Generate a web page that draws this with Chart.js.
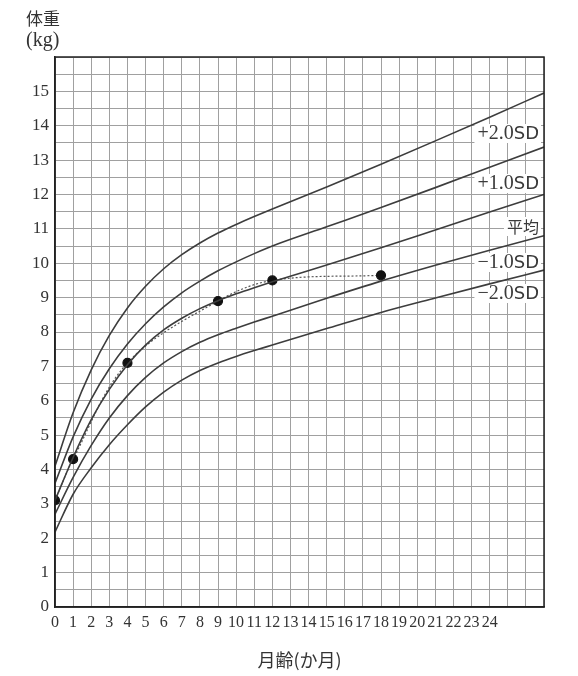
<!DOCTYPE html>
<html>
<head>
<meta charset="utf-8">
<script src="https://cdn.jsdelivr.net/npm/chart.js@4/dist/chart.umd.min.js"></script>
<style>
html,body{margin:0;padding:0;background:#fff;}
#wrap{width:578px;height:676px;position:relative;}
canvas{display:block;}
</style>
</head>
<body>
<div id="wrap"><canvas id="c" width="578" height="676"></canvas></div>
<script>
// ---- data ----
const months   = [0, 1, 2, 3, 4, 5, 6, 7, 8, 9, 10, 11, 12, 15, 18, 21, 24, 27];
const plus2SD  = [4.1, 5.65, 6.9, 7.9, 8.7, 9.33, 9.84, 10.25, 10.59, 10.88, 11.13, 11.36, 11.58, 12.22, 12.88, 13.56, 14.25, 14.95];
const plus1SD  = [3.6, 4.95, 6.05, 6.93, 7.65, 8.24, 8.73, 9.14, 9.48, 9.78, 10.04, 10.28, 10.5, 11.06, 11.62, 12.2, 12.79, 13.38];
const meanLine = [3.1, 4.35, 5.45, 6.33, 7.05, 7.62, 8.06, 8.4, 8.68, 8.91, 9.11, 9.29, 9.46, 9.95, 10.45, 10.97, 11.49, 12.0];
const minus1SD = [2.7, 3.77, 4.7, 5.5, 6.15, 6.68, 7.1, 7.43, 7.7, 7.92, 8.11, 8.29, 8.46, 8.98, 9.48, 9.94, 10.38, 10.8];
const minus2SD = [2.18, 3.28, 4.05, 4.72, 5.3, 5.82, 6.25, 6.6, 6.88, 7.1, 7.29, 7.46, 7.62, 8.1, 8.57, 8.99, 9.4, 9.8];
const childMonths  = [0, 1, 4, 9, 12, 18];
const childWeights = [3.1, 4.3, 7.1, 8.9, 9.5, 9.65];
const xTickLabels = [0,1,2,3,4,5,6,7,8,9,10,11,12,13,14,15,16,17,18,19,20,21,22,23,24];
const yTickLabels = [0,1,2,3,4,5,6,7,8,9,10,11,12,13,14,15];
const curveNames = ['+2.0SD', '+1.0SD', '平均', '−1.0SD', '−2.0SD'];
const curveSeries = [plus2SD, plus1SD, meanLine, minus1SD, minus2SD];
const yTitle = ['体重', '(kg)'];
const xTitle = '月齢(か月)';

// ---- build datasets ----
const toPts = (xs, ys) => xs.map((x, i) => ({x: x, y: ys[i]}));
const datasets = curveSeries.map((s, i) => ({
  label: curveNames[i],
  data: toPts(months, s),
  showLine: true,
  borderColor: '#3d3d3d',
  borderWidth: 1.6,
  pointRadius: 0,
  cubicInterpolationMode: 'monotone',
  fill: false
}));
datasets.push({
  label: 'child',
  data: toPts(childMonths, childWeights),
  showLine: true,
  borderColor: '#555',
  borderWidth: 1.2,
  borderDash: [2, 2],
  tension: 0.35,
  pointRadius: 4.5,
  pointBackgroundColor: '#111',
  pointBorderColor: '#111',
  fill: false
});

const SERIF = '"Liberation Serif", "DejaVu Serif", serif';
const CJK = '"Noto Sans CJK JP", sans-serif';

const decor = {
  id: 'decor',
  beforeDatasetsDraw(chart) {
    const ctx = chart.ctx;
    ctx.save();
    // white patches behind the curve labels (cover the grid only)
    const labelY = [133, 183, 226, 262, 293];
    const right = 539;
    curveNames.forEach((name, i) => {
      const y = labelY[i];
      const parts = labelParts(name);
      let w = 0;
      parts.forEach(p => { ctx.font = p[1]; w += ctx.measureText(p[0]).width; });
      ctx.fillStyle = '#fff';
      ctx.fillRect(right - w - 3, y - 9, w + 5, 19);
    });
    ctx.restore();
  },
  afterDatasetsDraw(chart) {
    const ctx = chart.ctx, a = chart.chartArea;
    ctx.save();
    const labelY = [133, 183, 226, 262, 293];
    const right = 539;
    curveNames.forEach((name, i) => {
      const y = labelY[i];
      const parts = labelParts(name);
      let w = 0;
      parts.forEach(p => { ctx.font = p[1]; w += ctx.measureText(p[0]).width; });
      let x = right - w;
      ctx.fillStyle = '#3a3a3a';
      ctx.textBaseline = 'middle';
      ctx.textAlign = 'left';
      parts.forEach(p => { ctx.font = p[1]; ctx.fillText(p[0], x, y + 1); x += ctx.measureText(p[0]).width; });
    });
    // frame
    ctx.strokeStyle = '#222';
    ctx.lineWidth = 1.5;
    ctx.strokeRect(a.left, a.top, a.right - a.left, a.bottom - a.top);
    // titles
    ctx.fillStyle = '#333';
    ctx.textAlign = 'left';
    ctx.textBaseline = 'middle';
    ctx.font = '17px ' + CJK;
    ctx.fillText(yTitle[0], 26, 19);
    ctx.font = '20px ' + SERIF;
    ctx.fillText(yTitle[1], 26, 41);
    ctx.textAlign = 'center';
    ctx.font = '18px ' + CJK;
    ctx.fillText(xTitle, (a.left + a.right) / 2, 660);
    ctx.restore();
  }
};
function labelParts(name) {
  if (name === '平均') return [[name, '16px ' + CJK]];
  return [[name.slice(0, 4), '20px ' + SERIF], [name.slice(4), '18px "DejaVu Sans", sans-serif']];
}

new Chart(document.getElementById('c'), {
  type: 'scatter',
  data: { datasets: datasets },
  options: {
    responsive: false,
    animation: false,
    devicePixelRatio: 1,
    layout: { padding: { top: 57, right: 34, left: 0, bottom: 0 } },
    plugins: { legend: { display: false }, tooltip: { enabled: false } },
    scales: {
      x: {
        type: 'linear', min: 0, max: 27,
        afterFit(s) { s.height = 69; },
        afterBuildTicks(s) { s.ticks = Array.from({length: 28}, (_, i) => ({value: i})); },
        ticks: {
          autoSkip: false, maxRotation: 0, minRotation: 0, padding: 6,
          color: '#333', font: { family: SERIF, size: 16 },
          callback: v => xTickLabels.includes(v) ? String(v) : ''
        },
        grid: { color: '#a0a0a0', lineWidth: 1, drawTicks: false },
        border: { display: true, color: '#222', width: 1.5 }
      },
      y: {
        type: 'linear', min: 0, max: 16,
        afterFit(s) { s.width = 55; },
        afterBuildTicks(s) { s.ticks = Array.from({length: 33}, (_, i) => ({value: i / 2})); },
        ticks: {
          autoSkip: false, padding: 6,
          color: '#333', font: { family: SERIF, size: 17 },
          callback: v => yTickLabels.includes(v) ? String(v) : ''
        },
        grid: { color: '#a0a0a0', lineWidth: 1, drawTicks: false },
        border: { display: true, color: '#222', width: 1.5 }
      }
    }
  },
  plugins: [decor]
});
</script>
</body>
</html>
